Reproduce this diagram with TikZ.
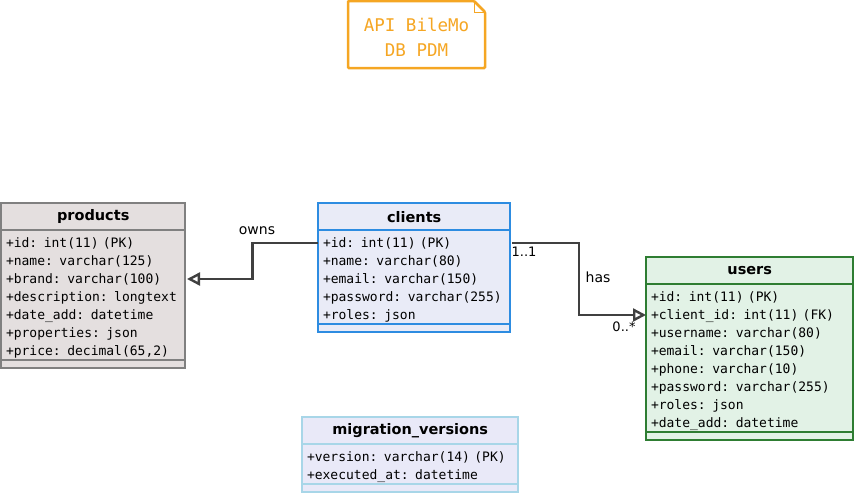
\documentclass[tikz,border=0pt]{standalone}
\usepackage{fontspec}
\setmainfont{DejaVu Sans}
\setmonofont{DejaVu Sans Mono}
\usetikzlibrary{positioning,calc,arrows.meta}

\definecolor{notecol}{HTML}{F5A623}
\definecolor{conncol}{HTML}{404040}

\tikzset{
  products/.style={draw=black!50, fill={rgb,255:red,228;green,223;blue,223}},
  clients/.style={draw={rgb,255:red,45;green,140;blue,225}, fill={rgb,255:red,233;green,235;blue,247}},
  users/.style={draw={rgb,255:red,46;green,125;blue,50}, fill={rgb,255:red,226;green,242;blue,230}},
  migration/.style={draw={rgb,255:red,168;green,214;blue,232}, fill={rgb,255:red,233;green,233;blue,248}},
  tblhead/.style={minimum height=27pt, inner sep=0pt, font=\fontsize{14.5}{16}\selectfont\bfseries},
  tblrow/.style={minimum height=18pt, inner xsep=4pt, inner ysep=0pt, outer sep=1pt, text depth=0pt,
    font=\fontsize{13}{15}\selectfont\ttfamily},
  conn/.style={draw=conncol, line width=2.4pt, -{Triangle[open,length=13pt,width=13pt,fill=white]}},
  lbl/.style={inner sep=0pt, font=\fontsize{14}{16}\selectfont},
  mult/.style={inner sep=0pt, font=\fontsize{13}{14}\selectfont}
}

\begin{document}
\begin{tikzpicture}[x=1pt, y=-1pt]
  % name, x, y, width, rows, title, fields
  \newcommand{\dbtable}[7]{
    \pgfmathsetmacro{\tblbottom}{#3+27+18*#5+4+8}
    \draw[#1, line width=2.5pt] (#2,#3) rectangle (#2+#4,\tblbottom);
    \node[tblhead, minimum width=#4, anchor=north west] (#1) at (#2,#3) {#6};
    \draw[#1, line width=2.5pt] (#2,#3+27) -- (#2+#4,#3+27);
    \draw[#1, line width=2.5pt] (#2,\tblbottom-8) -- (#2+#4,\tblbottom-8);
    \foreach \r [count=\i] in {#7}
      \node[tblrow, anchor=north west, minimum width=#4, text width=#4-8, align=left]
        (#1-\i) at (#2,#3+30+18*\i-18) {\r};
  }

  \useasboundingbox (0,0) rectangle (856,496);

  % Note
  \draw[notecol, line width=2.5pt, rounded corners=1pt]
    (348,1) -- (474,1) -- (485,12) -- (485,68) -- (348,68) -- cycle;
  \draw[notecol, line width=1pt] (474,1) -- (474,12) -- (485,12);
  \node[text=notecol, align=center, font=\fontsize{17.5}{25}\selectfont\ttfamily] (note)
    at (416.5,37) {API BileMo\\DB PDM};

  % Tables
  \dbtable{products}{1}{203}{184}{7}{products}{
    {+id: int(11) (PK)}, {+name: varchar(125)}, {+brand: varchar(100)},
    {+description: longtext}, {+date\_add: datetime}, {+properties: json},
    {+price: decimal(65,2)}}
  \dbtable{clients}{318}{203}{192}{5}{clients}{
    {+id: int(11) (PK)}, {+name: varchar(80)}, {+email: varchar(150)},
    {+password: varchar(255)}, {+roles: json}}
  \dbtable{users}{646}{257}{207}{8}{users}{
    {+id: int(11) (PK)}, {+client\_id: int(11) (FK)}, {+username: varchar(80)},
    {+email: varchar(150)}, {+phone: varchar(10)}, {+password: varchar(255)},
    {+roles: json}, {+date\_add: datetime}}
  \dbtable{migration}{302}{417}{216}{2}{migration\_versions}{
    {+version: varchar(14) (PK)}, {+executed\_at: datetime}}

  % Relations
  \coordinate (ownsbend) at ($(clients-1.west)!.5!(products-3.east)$);
  \draw[conn] (clients-1.west) -| (ownsbend) |- (products-3.east);
  \node[lbl] (owns) at (257,231) {owns};

  \coordinate (hasbend) at ($(clients-1.east)!.5!(users-2.west)$);
  \draw[conn] (clients-1.east) -| (hasbend) |- (users-2.west);
  \node[lbl] (has) at (598,277) {has};
  \node[mult] (oneone) at (524,252) {1..1};
  \node[mult] (zeromany) at (624,327) {0..*};
\end{tikzpicture}
\end{document}
